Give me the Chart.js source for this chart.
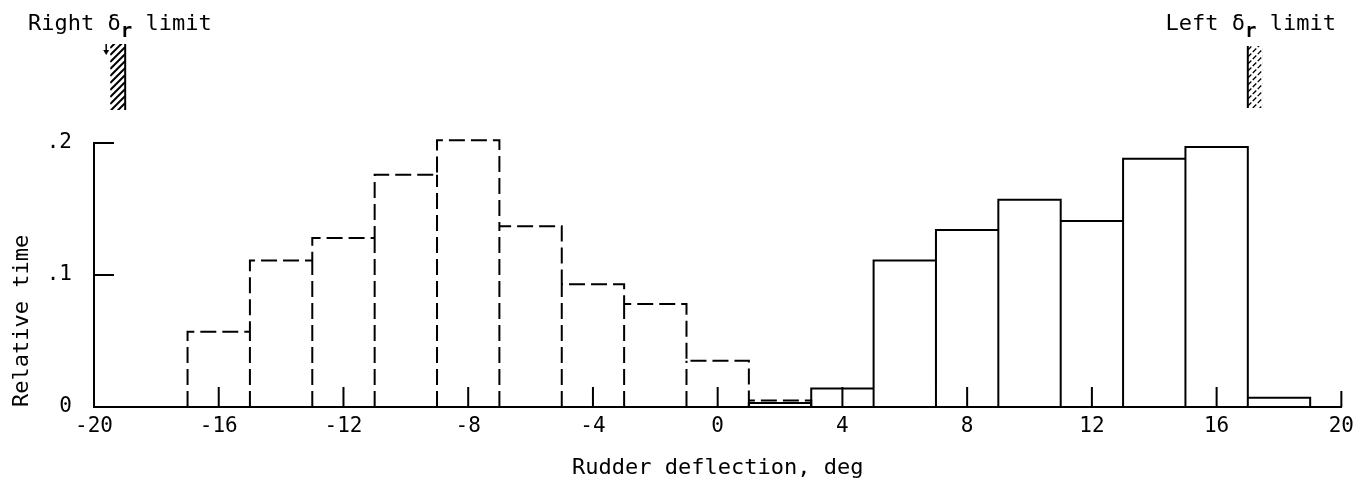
<!DOCTYPE html>
<html>
<head>
<meta charset="utf-8">
<script src="https://cdn.jsdelivr.net/npm/chart.js@4.4.0/dist/chart.umd.min.js"></script>
<style>
  html, body { margin: 0; padding: 0; background: #fff; }
</style>
</head>
<body>
<canvas id="rudder-chart" width="1361" height="491"></canvas>
<script>
// bin centres (deg) and relative time in each 2 deg bin
var leftCenters = [-16, -14, -12, -10, -8, -6, -4, -2, 0, 2];
var leftTimes = [0.057, 0.111, 0.128, 0.176, 0.202, 0.137, 0.093, 0.078, 0.035, 0.005];
var rightCenters = [2, 4, 6, 8, 10, 12, 14, 16, 18];
var rightTimes = [0.003, 0.014, 0.111, 0.134, 0.157, 0.141, 0.188, 0.197, 0.007];
var binWidth = 2;
var xTicks = [-20, -16, -12, -8, -4, 0, 4, 8, 12, 16, 20];
var yTicks = [0, 0.1, 0.2];
// rudder stops: right, left
var rudderLimits = [-19, 17];
var limitNames = ['Right', 'Left'];

var mono = "'DejaVu Sans Mono', 'Liberation Mono', monospace";

// outline of a histogram: the stepped top, then each inner edge down to the axis
function histOutline(centers, values) {
  var half = binWidth / 2;
  var pts = [{x: centers[0] - half, y: 0}];
  for (var i = 0; i < centers.length; i++) {
    pts.push({x: centers[i] - half, y: values[i]});
    pts.push({x: centers[i] + half, y: values[i]});
  }
  pts.push({x: centers[centers.length - 1] + half, y: 0});
  for (var j = 1; j < centers.length; j++) {
    var e = centers[j] - half;
    pts.push({x: e, y: null});
    pts.push({x: e, y: 0});
    pts.push({x: e, y: Math.min(values[j - 1], values[j])});
  }
  return pts;
}

function drawStop(ctx, px, side, top, bottom, light) {
  var w = 15;
  var x0 = side < 0 ? px - w : px;
  ctx.save();
  ctx.beginPath();
  ctx.rect(x0, top, w, bottom - top);
  ctx.clip();
  ctx.lineWidth = light ? 1.3 : 2;
  if (light) ctx.setLineDash([5, 2]);
  ctx.beginPath();
  for (var y = top + 4; y < bottom + w; y += 7) {
    ctx.moveTo(x0, y);
    ctx.lineTo(x0 + w, y - w);
  }
  ctx.stroke();
  ctx.restore();
  ctx.beginPath();
  ctx.moveTo(px, top);
  ctx.lineTo(px, bottom);
  ctx.stroke();
}

function drawLimitLabel(ctx, name, x, y, alignRight) {
  var big = '22px ' + mono, small = 'bold 19px ' + mono;
  ctx.font = big;
  var a = name + ' \u03b4', c = ' limit';
  var wa = ctx.measureText(a).width, wc = ctx.measureText(c).width;
  ctx.font = small;
  var wb = ctx.measureText('r').width;
  var x0 = alignRight ? x - (wa + wb + wc) : x;
  ctx.textAlign = 'left';
  ctx.textBaseline = 'alphabetic';
  ctx.font = big;
  ctx.fillText(a, x0, y);
  ctx.font = small;
  ctx.fillText('r', x0 + wa, y + 7);
  ctx.font = big;
  ctx.fillText(c, x0 + wa + wb, y);
}

var paperMarks = {
  id: 'paperMarks',
  afterDatasetsDraw: function (chart) {
    var ctx = chart.ctx, xs = chart.scales.x, ys = chart.scales.y;
    var base = ys.getPixelForValue(0);
    ctx.save();
    ctx.strokeStyle = '#000';
    ctx.fillStyle = '#000';
    ctx.lineWidth = 2;
    // inward tick marks
    ctx.beginPath();
    xTicks.forEach(function (v) {
      if (v === xs.min) return;
      var px = xs.getPixelForValue(v);
      ctx.moveTo(px, base);
      ctx.lineTo(px, base - (v === xs.max ? 16 : 20));
    });
    yTicks.forEach(function (v) {
      if (v === 0) return;
      var py = ys.getPixelForValue(v);
      ctx.moveTo(xs.left, py);
      ctx.lineTo(xs.left + 20, py);
    });
    ctx.stroke();

    // rudder stop markers and their labels
    var rp = xs.getPixelForValue(rudderLimits[0]);
    var lp = xs.getPixelForValue(rudderLimits[1]);
    drawStop(ctx, rp, -1, 44, 110, false);
    drawStop(ctx, lp, 1, 46, 108, true);
    ctx.lineWidth = 1.5;
    ctx.beginPath();
    ctx.moveTo(rp - 19, 44);
    ctx.lineTo(rp - 19, 52);
    ctx.stroke();
    ctx.beginPath();
    ctx.moveTo(rp - 22, 50);
    ctx.lineTo(rp - 16, 50);
    ctx.lineTo(rp - 19, 55);
    ctx.fill();

    drawLimitLabel(ctx, limitNames[0], 28, 30, false);
    drawLimitLabel(ctx, limitNames[1], 1336, 30, true);
    ctx.restore();
  }
};

var ctx = document.getElementById('rudder-chart');

var config = {
  type: 'line',
  data: {
    datasets: [{
      label: 'Right',
      data: histOutline(leftCenters, leftTimes),
      borderColor: '#000',
      borderWidth: 2,
      borderDash: [16, 6],
      pointRadius: 0,
      tension: 0,
      fill: false,
      spanGaps: false,
      clip: false
    }, {
      label: 'Left',
      data: histOutline(rightCenters, rightTimes),
      borderColor: '#000',
      borderWidth: 2,
      pointRadius: 0,
      tension: 0,
      fill: false,
      spanGaps: false,
      clip: false
    }]
  },
  options: {
    responsive: false,
    devicePixelRatio: 1,
    animation: false,
    parsing: false,
    layout: { padding: { top: 143, right: 17, left: 0, bottom: 0 } },
    plugins: {
      legend: { display: false },
      tooltip: { enabled: false }
    },
    scales: {
      x: {
        type: 'linear',
        min: -20,
        max: 20,
        afterBuildTicks: function (s) {
          s.ticks = xTicks.map(function (v) { return {value: v}; });
        },
        ticks: {
          color: '#000',
          font: { family: mono, size: 21 },
          padding: 7,
          maxRotation: 0,
          autoSkip: false
        },
        grid: { display: false, drawTicks: false },
        border: { display: true, color: '#000', width: 2 },
        title: {
          display: true,
          text: 'Rudder deflection, deg',
          color: '#000',
          font: { family: mono, size: 22 },
          padding: { top: 0, bottom: 10 }
        },
        afterFit: function (s) { s.height = 84; }
      },
      y: {
        min: 0,
        max: 0.2,
        afterBuildTicks: function (s) {
          s.ticks = yTicks.map(function (v) { return {value: v}; });
        },
        ticks: {
          color: '#000',
          font: { family: mono, size: 21 },
          padding: 22,
          callback: function (v) {
            var r = Math.round(v * 10) / 10;
            return r === 0 ? '0' : String(r).replace(/^0/, '');
          }
        },
        grid: { display: false, drawTicks: false },
        border: { display: true, color: '#000', width: 2 },
        title: {
          display: true,
          text: 'Relative time',
          align: 'start',
          color: '#000',
          font: { family: mono, size: 22 },
          padding: { top: 9, bottom: 0 }
        },
        afterFit: function (s) { s.width = 94; }
      }
    }
  },
  plugins: [paperMarks]
};

var rudderChart = new Chart(ctx, config);
</script>
</body>
</html>
